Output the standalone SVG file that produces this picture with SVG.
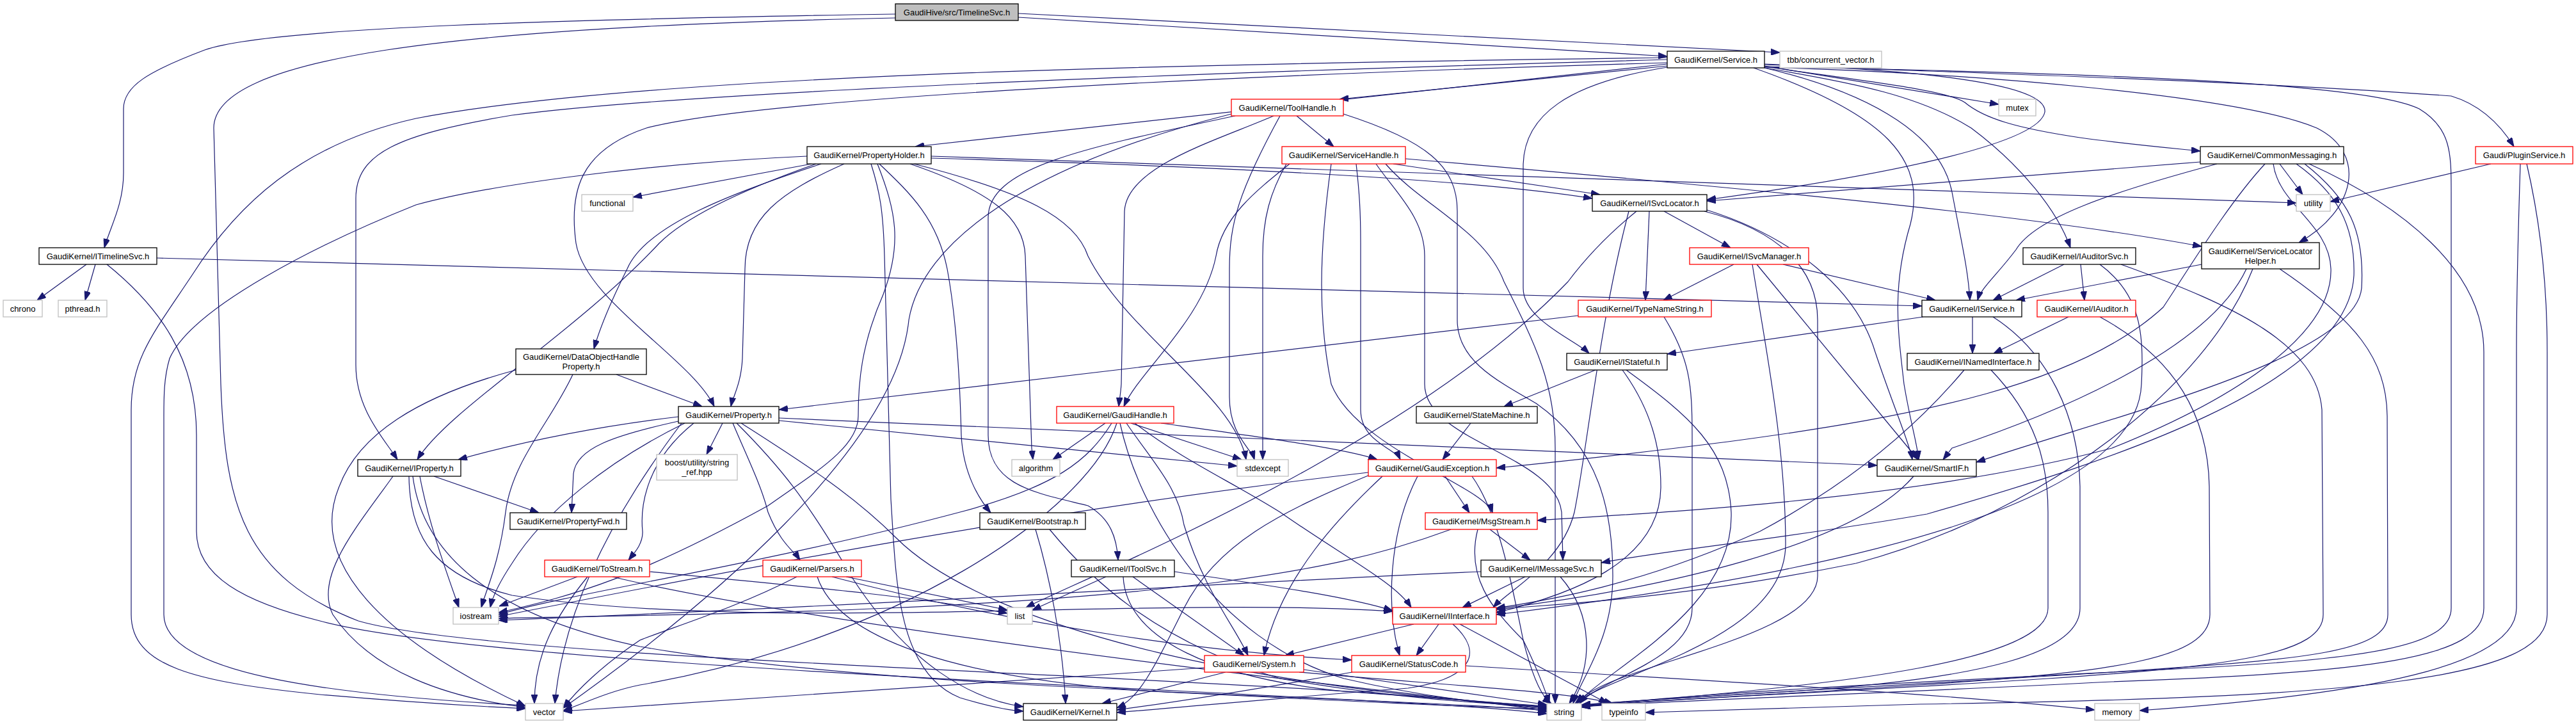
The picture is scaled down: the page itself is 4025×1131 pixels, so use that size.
<svg xmlns="http://www.w3.org/2000/svg" width="4025" height="1131" viewBox="0 0 4025 1131">
<defs>
<marker id="arr" markerUnits="userSpaceOnUse" markerWidth="14" markerHeight="10" refX="14" refY="5" orient="auto"><path d="M0,0 L14,5 L0,10 z" fill="#191970" stroke="#191970" stroke-width="1"/></marker>
<style>
.e path{fill:none;stroke:#191970;stroke-width:1.2;marker-end:url(#arr)}
.n rect{fill:#ffffff;stroke:#000000;stroke-width:1.3}
.n.red rect{stroke:#ff0000}
.n.ext rect{stroke:#bfbfbf}
.n.root rect{fill:#bfbfbf}
.n text{font-family:"Liberation Sans",Arial,sans-serif;font-size:13px;text-anchor:middle;fill:#000000}
</style>
</defs>
<rect x="0" y="0" width="4025" height="1131" fill="#ffffff"/>
<g id="edges" class="e">
<path d="M 1399 22 C 900 30 420 42 320 78 C 230 112 193 135 193 170 L 193 270 C 193 320 172 355 163 387"/>
<path d="M 1591 27 L 2605 88"/>
<path d="M 1591 21 L 2781 82"/>
<path d="M 1399 28 C 700 42 334 90 334 200 L 345 600 C 352 790 380 900 560 970 C 800 1040 2200 1060 2417 1112"/>
<path d="M 135 413 L 58 469"/>
<path d="M 149 413 L 133 469"/>
<path d="M 245 403 L 3003 478"/>
<path d="M 167 413 C 250 480 307 560 307 680 L 307 830 C 307 900 380 940 500 970 C 800 1050 2200 1085 2417 1115"/>
<path d="M 2605 100 L 1430 229"/>
<path d="M 2605 103 L 2093 155"/>
<path d="M 2605 93 C 2000 110 1100 140 800 180 C 620 210 556 240 556 310 L 556 570 C 556 640 600 685 621 718"/>
<path d="M 2605 98 C 2000 115 1200 150 1010 200 C 905 235 889 300 900 380 C 915 470 1080 560 1116 635"/>
<path d="M 2605 90 C 1800 100 1000 118 650 185 C 470 225 370 320 300 430 C 240 520 205 560 205 640 L 205 960 C 205 1040 300 1065 500 1085 C 650 1098 760 1104 821 1107"/>
<path d="M 2757 100 C 3000 110 3200 130 3195 175 C 3185 230 2900 280 2667 312"/>
<path d="M 2757 103 L 3123 163"/>
<path d="M 2757 104 C 2900 125 3040 140 3070 160 C 3100 185 3150 200 3250 215 C 3330 226 3400 232 3438 236"/>
<path d="M 2757 101 C 3000 112 3500 125 3830 150 C 3880 165 3910 200 3928 229"/>
<path d="M 2757 106 C 2900 130 3000 150 3080 200 C 3160 260 3215 330 3235 387"/>
<path d="M 2757 105 C 3100 115 3500 150 3620 200 C 3700 240 3680 330 3592 379"/>
<path d="M 2757 106 C 2900 140 3030 200 3050 300 C 3065 380 3075 420 3078 469"/>
<path d="M 2740 106 C 2950 180 3010 250 2985 350 C 2955 450 2966 520 2975 600 C 2985 660 2995 690 2998 718"/>
<path d="M 2605 105 C 2450 130 2380 180 2380 260 L 2380 450 C 2380 500 2460 530 2483 552"/>
<path d="M 2757 104 C 3300 115 3700 130 3780 170 C 3830 200 3830 240 3830 300 L 3830 950 C 3830 1010 3700 1030 3400 1045 C 3000 1065 2600 1085 2471 1105"/>
<path d="M 2026 181 L 2084 229"/>
<path d="M 1990 181 C 1900 220 1760 260 1757 330 L 1752 600 C 1751 615 1749 625 1748 635"/>
<path d="M 1930 181 C 1700 230 1544 260 1544 340 L 1544 680 C 1544 760 1620 770 1700 790 C 1735 810 1745 840 1747 875"/>
<path d="M 2000 181 C 1935 300 1921 350 1921 420 L 1921 620 C 1921 680 1955 700 1960 718"/>
<path d="M 1924 178 C 1600 260 1440 380 1420 500 C 1400 700 1100 950 880 1106"/>
<path d="M 2099 178 C 2230 220 2277 260 2277 330 L 2277 500 C 2277 560 2330 590 2400 630 C 2500 700 2520 800 2520 900 C 2520 1000 2470 1060 2458 1099"/>
<path d="M 2015 256 C 1960 300 1910 340 1900 400 C 1880 500 1780 580 1756 635"/>
<path d="M 2119 256 C 2124 300 2126 330 2126 380 L 2126 640 C 2126 690 2180 700 2188 718"/>
<path d="M 2150 256 C 2180 300 2226 340 2226 400 L 2226 600 C 2226 690 2430 710 2440 800 L 2442 875"/>
<path d="M 2177 256 L 2500 304"/>
<path d="M 2080 256 C 2060 400 2060 500 2080 600 C 2120 700 2320 760 2332 801"/>
<path d="M 2196 248 C 2800 300 3200 340 3440 385"/>
<path d="M 2010 256 C 1985 300 1973 340 1973 400 L 1973 718"/>
<path d="M 2165 256 C 2220 320 2320 360 2350 440 C 2400 540 2430 600 2430 700 L 2430 1099"/>
<path d="M 1268 256 L 989 308"/>
<path d="M 1261 244 C 1000 256 760 290 650 320 C 500 380 300 480 265 560 C 256 590 256 620 256 650 L 256 960 C 256 1050 500 1085 821 1102"/>
<path d="M 1283 256 C 1150 300 1010 350 980 420 C 950 480 935 520 928 545"/>
<path d="M 1275 256 C 1150 300 1070 340 1030 380 C 900 520 700 640 652 718"/>
<path d="M 1319 256 C 1220 300 1164 340 1164 420 L 1160 560 C 1158 600 1145 620 1142 635"/>
<path d="M 1361 256 C 1375 300 1380 330 1382 400 L 1392 780 C 1400 900 1400 1050 1500 1090 C 1550 1105 1580 1110 1599 1111"/>
<path d="M 1371 256 C 1400 330 1410 380 1380 460 C 1345 540 1341 600 1341 650 C 1341 700 1270 740 1200 790 C 1000 900 900 930 779 957"/>
<path d="M 1374 256 C 1420 300 1464 340 1480 420 C 1495 500 1500 600 1502 680 C 1505 740 1530 780 1548 801"/>
<path d="M 1422 256 C 1550 300 1600 340 1602 400 L 1612 700 L 1614 718"/>
<path d="M 1428 256 C 1600 300 1680 340 1700 400 C 1760 520 1930 620 1947 718"/>
<path d="M 1455 244 L 3588 317"/>
<path d="M 1455 247 C 1900 260 2300 280 2488 310"/>
<path d="M 963 585 L 1097 635"/>
<path d="M 895 585 C 860 660 800 720 790 800 C 780 880 760 920 752 949"/>
<path d="M 806 578 C 650 620 560 680 530 760 C 480 880 600 1000 821 1103"/>
<path d="M 1129 661 L 1104 710"/>
<path d="M 1060 651 C 900 670 780 700 716 718"/>
<path d="M 1060 658 C 960 680 900 700 896 740 L 893 801"/>
<path d="M 1084 661 C 1010 720 1000 790 1004 830 C 1005 850 990 865 982 875"/>
<path d="M 1145 661 C 1170 720 1190 760 1200 800 C 1220 850 1240 860 1250 875"/>
<path d="M 1217 653 L 2933 727"/>
<path d="M 1217 657 L 1933 728"/>
<path d="M 1070 661 C 950 720 850 800 800 880 C 780 910 770 930 766 949"/>
<path d="M 1065 661 C 960 800 880 950 867 1099"/>
<path d="M 1151 661 C 1220 730 1260 780 1330 900 C 1420 1040 1520 1093 1599 1104"/>
<path d="M 1158 661 C 1250 720 1330 770 1400 840 C 1550 990 2000 1080 2417 1103"/>
<path d="M 678 744 L 842 801"/>
<path d="M 656 744 C 670 820 700 900 717 949"/>
<path d="M 614 744 C 560 820 490 900 520 960 C 580 1050 700 1090 821 1105"/>
<path d="M 639 744 C 640 840 680 900 800 930 C 1200 990 1800 930 2176 955"/>
<path d="M 645 744 C 660 860 760 960 1000 1010 C 1400 1080 2100 1085 2417 1110"/>
<path d="M 1727 661 L 1645 718"/>
<path d="M 1767 661 L 1940 718"/>
<path d="M 1814 661 C 1950 680 2100 700 2152 718"/>
<path d="M 1760 661 C 1800 720 1840 760 1850 820 C 1880 920 1930 980 1950 1024"/>
<path d="M 1773 661 C 1850 720 1920 750 2000 800 C 2100 870 2180 910 2205 949"/>
<path d="M 1737 661 C 1700 720 1650 760 1500 800 C 1200 880 900 925 779 960"/>
<path d="M 1745 661 C 1700 800 1400 1000 1000 1070 C 950 1080 910 1100 880 1110"/>
<path d="M 1750 661 C 1780 800 1900 1000 2100 1060 C 2250 1095 2350 1100 2417 1106"/>
<path d="M 2545 330 C 2500 500 2480 700 2460 800 C 2440 880 2360 920 2333 949"/>
<path d="M 2600 330 L 2704 387"/>
<path d="M 2577 330 L 2571 469"/>
<path d="M 2667 328 C 2800 370 2900 450 2930 550 C 2960 640 2983 690 2988 718"/>
<path d="M 2557 330 C 2520 360 2480 400 2450 440 C 2200 700 1700 900 1603 949"/>
<path d="M 2663 330 C 2780 360 2840 420 2840 500 L 2840 900 C 2840 1000 2500 1040 2465 1099"/>
<path d="M 2709 413 L 2599 469"/>
<path d="M 2786 413 L 3024 469"/>
<path d="M 2745 413 L 2997 718"/>
<path d="M 2738 413 C 2760 550 2790 700 2790 850 C 2790 1000 2520 1050 2461 1099"/>
<path d="M 2466 493 L 1217 640"/>
<path d="M 2600 495 C 2640 560 2644 600 2644 680 L 2644 950 C 2644 1030 2500 1060 2468 1099"/>
<path d="M 3082 495 L 3082 552"/>
<path d="M 3005 495 L 2605 553"/>
<path d="M 3114 495 C 3200 550 3248 650 3250 760 L 3250 950 C 3250 1020 3100 1060 2800 1080 C 2600 1092 2500 1098 2471 1102"/>
<path d="M 3225 413 L 3114 469"/>
<path d="M 3251 413 L 3257 469"/>
<path d="M 3281 413 C 3345 460 3350 520 3346 600 C 3340 760 3000 880 2338 960"/>
<path d="M 3314 413 C 3500 480 3620 540 3628 640 L 3630 960 C 3630 1020 3500 1040 3200 1060 C 2900 1080 2600 1092 2471 1103"/>
<path d="M 3232 495 L 3115 552"/>
<path d="M 3281 495 C 3400 560 3450 650 3452 760 L 3453 960 C 3453 1030 3300 1050 3000 1070 C 2700 1090 2550 1096 2471 1104"/>
<path d="M 3440 413 L 3150 469"/>
<path d="M 3510 420 C 3450 550 3200 650 3050 700 L 3036 718"/>
<path d="M 3520 420 C 3450 600 3200 800 2900 880 C 2600 940 2400 945 2338 952"/>
<path d="M 3562 420 C 3680 500 3729 560 3730 650 L 3731 960 C 3731 1020 3600 1030 3300 1050 C 2900 1075 2600 1090 2471 1101"/>
<path d="M 2493 578 L 2350 635"/>
<path d="M 2535 578 C 2580 640 2595 700 2595 760 C 2595 880 2450 930 2338 957"/>
<path d="M 2541 578 C 2640 650 2700 700 2705 800 C 2710 950 2520 1040 2463 1099"/>
<path d="M 3069 578 C 3000 660 2900 750 2750 830 C 2550 920 2400 940 2338 950"/>
<path d="M 3111 578 C 3180 650 3200 720 3200 800 L 3200 950 C 3200 1030 2900 1070 2471 1102"/>
<path d="M 2298 661 L 2254 718"/>
<path d="M 2258 744 L 2296 801"/>
<path d="M 2215 744 C 2170 830 2165 950 2187 1024"/>
<path d="M 2160 744 C 2100 800 2000 900 1975 1024"/>
<path d="M 2140 742 C 2000 800 1900 850 1850 950 C 1800 1050 1780 1090 1745 1106"/>
<path d="M 2138 738 C 1600 800 1100 900 779 963"/>
<path d="M 2300 744 C 2340 800 2360 900 2380 1000 C 2395 1060 2410 1090 2424 1099"/>
<path d="M 2328 827 L 2391 875"/>
<path d="M 2309 827 C 2290 900 2330 950 2380 1000 C 2400 1040 2415 1080 2421 1099"/>
<path d="M 2267 827 C 2150 870 2050 890 1900 910 C 1500 960 1000 960 779 966"/>
<path d="M 2383 901 L 2285 949"/>
<path d="M 2438 901 C 2490 960 2490 1040 2452 1099"/>
<path d="M 2314 893 C 2000 905 1500 940 779 969"/>
<path d="M 2209 975 L 2008 1024"/>
<path d="M 2248 975 L 2213 1024"/>
<path d="M 2270 975 C 2320 1020 2300 1060 2200 1075 C 2000 1090 1850 1105 1745 1113"/>
<path d="M 2281 975 L 2512 1099"/>
<path d="M 1915 1050 L 1722 1099"/>
<path d="M 2037 1046 L 2417 1101"/>
<path d="M 2030 1050 C 2250 1070 2450 1080 2520 1099"/>
<path d="M 1882 1043 C 1500 1070 1100 1095 880 1111"/>
<path d="M 2113 1050 C 2000 1070 1850 1095 1745 1109"/>
<path d="M 2290 1040 C 2600 1060 3000 1080 3273 1109"/>
<path d="M 902 901 L 780 947"/>
<path d="M 918 901 C 870 960 835 1020 835 1099"/>
<path d="M 957 901 C 1200 960 1800 1040 2417 1108"/>
<path d="M 1015 893 C 1300 920 1450 935 1574 958"/>
<path d="M 1322 901 L 1574 953"/>
<path d="M 1245 901 C 1150 950 1050 980 1000 1000 C 940 1040 900 1080 880 1106"/>
<path d="M 1277 901 C 1310 1000 1500 1060 1800 1080 C 2100 1095 2300 1105 2417 1107"/>
<path d="M 1300 901 C 1600 980 1900 1020 2112 1031"/>
<path d="M 1728 901 L 1613 953"/>
<path d="M 1755 901 C 1760 1000 1900 1060 2100 1080 C 2300 1095 2380 1100 2417 1105"/>
<path d="M 1770 901 L 1944 1024"/>
<path d="M 1835 893 C 1950 910 2100 930 2176 954"/>
<path d="M 1618 827 C 1640 900 1660 1000 1665 1099"/>
<path d="M 1640 827 C 1700 900 1800 1000 2000 1060 C 2200 1095 2350 1100 2417 1104"/>
<path d="M 2990 744 C 2900 850 2600 920 2338 951"/>
<path d="M 3438 253 L 2667 314"/>
<path d="M 3464 256 C 3300 300 3180 340 3150 390 C 3120 430 3095 450 3090 469"/>
<path d="M 3539 256 C 3480 320 3420 420 3380 480 C 3250 600 3000 650 2700 690 C 2500 715 2400 725 2338 731"/>
<path d="M 3552 256 C 3560 320 3640 350 3642 420 C 3645 520 3500 620 3300 700 C 3000 780 2600 800 2402 813"/>
<path d="M 3588 256 C 3650 300 3680 350 3678 430 C 3670 600 3300 720 3011 803 C 2800 840 2600 860 2502 879"/>
<path d="M 3601 256 C 3670 310 3695 360 3690 450 C 3680 560 3300 650 3088 722"/>
<path d="M 3562 256 L 3598 304"/>
<path d="M 3608 256 C 3750 320 3881 420 3881 550 L 3881 950 C 3881 1030 3700 1050 3300 1065 C 2900 1085 2600 1095 2471 1104"/>
<path d="M 3892 256 L 3641 315"/>
<path d="M 3938 256 C 3935 350 3932 450 3932 550 L 3932 950 C 3932 1040 3700 1085 3343 1110"/>
<path d="M 3948 256 C 3970 350 3980 450 3980 550 L 3980 960 C 3980 1060 3700 1090 3000 1100 C 2800 1105 2650 1110 2571 1113"/>
</g>
<g id="nodes">
<g id="node-root" class="n root"><rect x="1399" y="6" width="192" height="26"/><text x="1495" y="23.5">GaudiHive/src/TimelineSvc.h</text></g>
<g id="node-service" class="n"><rect x="2605" y="80" width="152" height="26"/><text x="2681" y="97.5">GaudiKernel/Service.h</text></g>
<g id="node-tbb" class="n ext"><rect x="2781" y="80" width="159" height="26"/><text x="2860.5" y="97.5">tbb/concurrent_vector.h</text></g>
<g id="node-itimelinesvc" class="n"><rect x="61" y="387" width="184" height="26"/><text x="153" y="404.5">GaudiKernel/ITimelineSvc.h</text></g>
<g id="node-chrono" class="n ext"><rect x="5" y="469" width="61" height="26"/><text x="35.5" y="486.5">chrono</text></g>
<g id="node-pthread" class="n ext"><rect x="91" y="469" width="76" height="26"/><text x="129" y="486.5">pthread.h</text></g>
<g id="node-propertyholder" class="n"><rect x="1261" y="229" width="194" height="27"/><text x="1358" y="247">GaudiKernel/PropertyHolder.h</text></g>
<g id="node-toolhandle" class="n red"><rect x="1924" y="155" width="175" height="26"/><text x="2011.5" y="172.5">GaudiKernel/ToolHandle.h</text></g>
<g id="node-servicehandle" class="n red"><rect x="2003" y="229" width="193" height="27"/><text x="2099.5" y="247">GaudiKernel/ServiceHandle.h</text></g>
<g id="node-mutex" class="n ext"><rect x="3123" y="155" width="58" height="26"/><text x="3152" y="172.5">mutex</text></g>
<g id="node-commonmessaging" class="n"><rect x="3438" y="229" width="224" height="27"/><text x="3550" y="247">GaudiKernel/CommonMessaging.h</text></g>
<g id="node-pluginservice" class="n red"><rect x="3868" y="229" width="152" height="27"/><text x="3944" y="247">Gaudi/PluginService.h</text></g>
<g id="node-functional" class="n ext"><rect x="909" y="304" width="80" height="26"/><text x="949" y="321.5">functional</text></g>
<g id="node-isvclocator" class="n"><rect x="2488" y="304" width="179" height="26"/><text x="2577.5" y="321.5">GaudiKernel/ISvcLocator.h</text></g>
<g id="node-utility" class="n ext"><rect x="3588" y="304" width="53" height="26"/><text x="3614.5" y="321.5">utility</text></g>
<g id="node-iauditorsvc" class="n"><rect x="3161" y="387" width="176" height="26"/><text x="3249" y="404.5">GaudiKernel/IAuditorSvc.h</text></g>
<g id="node-servicelocatorhelper" class="n"><rect x="3440" y="379" width="184" height="41"/><text x="3532" y="396.5">GaudiKernel/ServiceLocator</text><text x="3532" y="411.5">Helper.h</text></g>
<g id="node-isvcmanager" class="n red"><rect x="2640" y="387" width="186" height="26"/><text x="2733" y="404.5">GaudiKernel/ISvcManager.h</text></g>
<g id="node-typenamestring" class="n red"><rect x="2466" y="469" width="208" height="26"/><text x="2570" y="486.5">GaudiKernel/TypeNameString.h</text></g>
<g id="node-iservice" class="n"><rect x="3003" y="469" width="156" height="26"/><text x="3081" y="486.5">GaudiKernel/IService.h</text></g>
<g id="node-iauditor" class="n red"><rect x="3183" y="469" width="154" height="26"/><text x="3260" y="486.5">GaudiKernel/IAuditor.h</text></g>
<g id="node-dataobjecthandleproperty" class="n"><rect x="806" y="545" width="204" height="40"/><text x="908" y="561.5">GaudiKernel/DataObjectHandle</text><text x="908" y="576.5">Property.h</text></g>
<g id="node-istateful" class="n"><rect x="2448" y="552" width="157" height="26"/><text x="2526.5" y="569.5">GaudiKernel/IStateful.h</text></g>
<g id="node-inamedinterface" class="n"><rect x="2980" y="552" width="206" height="26"/><text x="3083" y="569.5">GaudiKernel/INamedInterface.h</text></g>
<g id="node-property" class="n"><rect x="1060" y="635" width="157" height="26"/><text x="1138.5" y="652.5">GaudiKernel/Property.h</text></g>
<g id="node-gaudihandle" class="n red"><rect x="1651" y="635" width="183" height="26"/><text x="1742.5" y="652.5">GaudiKernel/GaudiHandle.h</text></g>
<g id="node-statemachine" class="n"><rect x="2213" y="635" width="189" height="26"/><text x="2307.5" y="652.5">GaudiKernel/StateMachine.h</text></g>
<g id="node-iproperty" class="n"><rect x="559" y="718" width="161" height="26"/><text x="639.5" y="735.5">GaudiKernel/IProperty.h</text></g>
<g id="node-boost" class="n ext"><rect x="1026" y="710" width="126" height="40"/><text x="1089" y="726.5">boost/utility/string</text><text x="1089" y="741.5">_ref.hpp</text></g>
<g id="node-algorithm" class="n ext"><rect x="1581" y="718" width="75" height="26"/><text x="1618.5" y="735.5">algorithm</text></g>
<g id="node-stdexcept" class="n ext"><rect x="1933" y="718" width="80" height="26"/><text x="1973" y="735.5">stdexcept</text></g>
<g id="node-gaudiexception" class="n red"><rect x="2138" y="718" width="200" height="26"/><text x="2238" y="735.5">GaudiKernel/GaudiException.h</text></g>
<g id="node-smartif" class="n"><rect x="2933" y="718" width="155" height="26"/><text x="3010.5" y="735.5">GaudiKernel/SmartIF.h</text></g>
<g id="node-propertyfwd" class="n"><rect x="797" y="801" width="182" height="26"/><text x="888" y="818.5">GaudiKernel/PropertyFwd.h</text></g>
<g id="node-bootstrap" class="n"><rect x="1531" y="801" width="165" height="26"/><text x="1613.5" y="818.5">GaudiKernel/Bootstrap.h</text></g>
<g id="node-msgstream" class="n red"><rect x="2227" y="801" width="175" height="26"/><text x="2314.5" y="818.5">GaudiKernel/MsgStream.h</text></g>
<g id="node-tostream" class="n red"><rect x="851" y="875" width="164" height="26"/><text x="933" y="892.5">GaudiKernel/ToStream.h</text></g>
<g id="node-parsers" class="n red"><rect x="1192" y="875" width="154" height="26"/><text x="1269" y="892.5">GaudiKernel/Parsers.h</text></g>
<g id="node-itoolsvc" class="n"><rect x="1674" y="875" width="161" height="26"/><text x="1754.5" y="892.5">GaudiKernel/IToolSvc.h</text></g>
<g id="node-imessagesvc" class="n"><rect x="2314" y="875" width="188" height="26"/><text x="2408" y="892.5">GaudiKernel/IMessageSvc.h</text></g>
<g id="node-iostream" class="n ext"><rect x="708" y="949" width="71" height="26"/><text x="743.5" y="966.5">iostream</text></g>
<g id="node-list" class="n ext"><rect x="1574" y="949" width="39" height="26"/><text x="1593.5" y="966.5">list</text></g>
<g id="node-iinterface" class="n red"><rect x="2176" y="949" width="162" height="26"/><text x="2257" y="966.5">GaudiKernel/IInterface.h</text></g>
<g id="node-system" class="n red"><rect x="1882" y="1024" width="155" height="26"/><text x="1959.5" y="1041.5">GaudiKernel/System.h</text></g>
<g id="node-statuscode" class="n red"><rect x="2112" y="1024" width="178" height="26"/><text x="2201" y="1041.5">GaudiKernel/StatusCode.h</text></g>
<g id="node-vector" class="n ext"><rect x="821" y="1099" width="59" height="26"/><text x="850.5" y="1116.5">vector</text></g>
<g id="node-kernel" class="n"><rect x="1599" y="1099" width="146" height="26"/><text x="1672" y="1116.5">GaudiKernel/Kernel.h</text></g>
<g id="node-string" class="n ext"><rect x="2417" y="1099" width="54" height="26"/><text x="2444" y="1116.5">string</text></g>
<g id="node-typeinfo" class="n ext"><rect x="2503" y="1099" width="68" height="26"/><text x="2537" y="1116.5">typeinfo</text></g>
<g id="node-memory" class="n ext"><rect x="3273" y="1099" width="70" height="26"/><text x="3308" y="1116.5">memory</text></g>
</g>
</svg>
